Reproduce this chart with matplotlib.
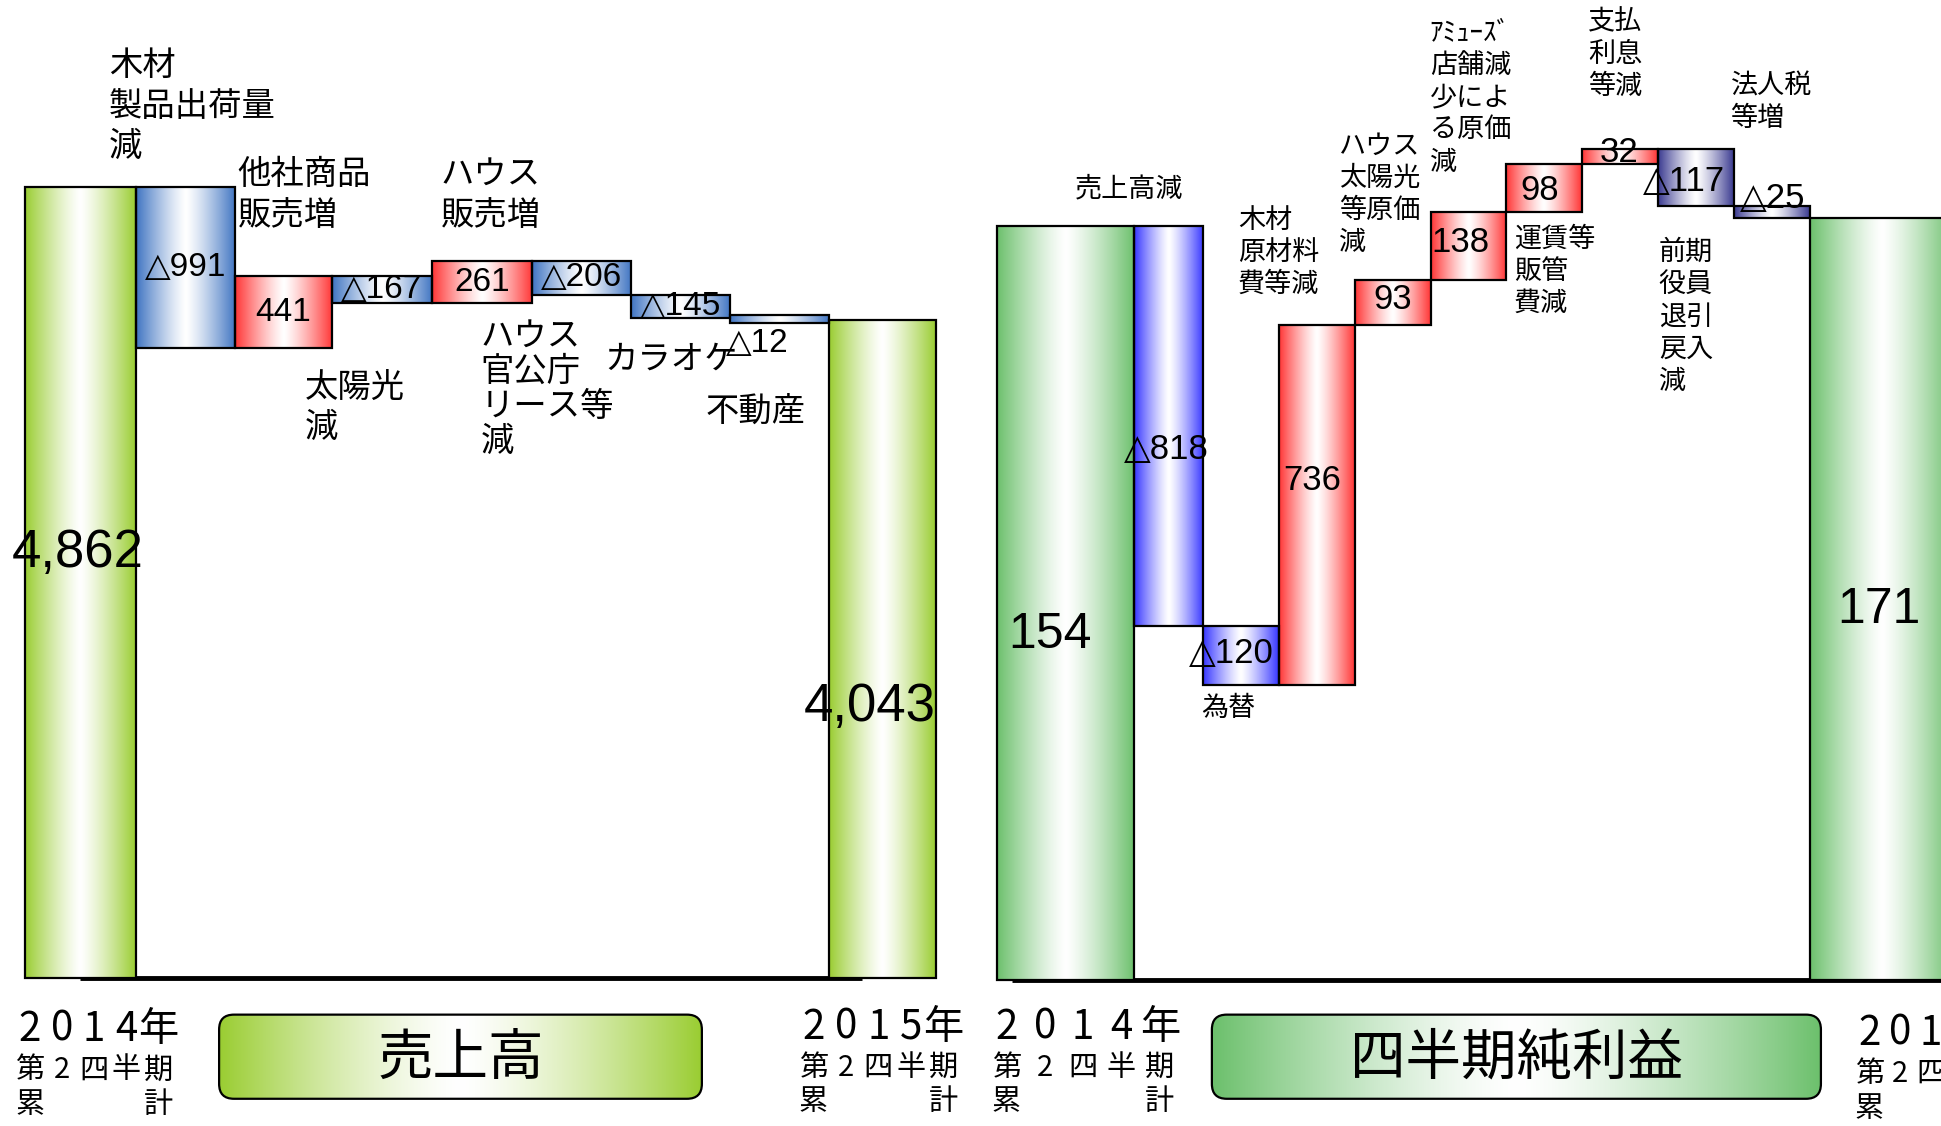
import numpy as np
import matplotlib
matplotlib.use('Agg')
import matplotlib.pyplot as plt
import matplotlib.colors as mcolors
from matplotlib.patches import Rectangle, FancyBboxPatch

JP = ['Noto Sans CJK JP', 'DejaVu Sans']
NUM = ['Liberation Sans', 'DejaVu Sans']

# ---- data: 売上高 (left panel) ----
sales_start = 4862
sales_end = 4043
sales_deltas = [-991, 441, -167, 261, -206, -145, -12]
sales_labels = ["木材\n製品出荷量\n減", "他社商品\n販売増", "太陽光\n減", "ハウス\n販売増",
                "ハウス\n官公庁\nリース等\n減", "カラオケ", "不動産"]

# ---- data: 四半期純利益 (right panel) ----
profit_start = 154
profit_end = 171
profit_deltas = [-818, -120, 736, 93, 138, 98, 32, -117, -25]
profit_labels = ["売上高減", "為替", "木材\n原材料\n費等減", "ハウス\n太陽光\n等原価\n減",
                 "ｱﾐｭｰｽﾞ\n店舗減\n少によ\nる原価\n減", "運賃等\n販管\n費減", "支払\n利息\n等減",
                 "前期\n役員\n退引\n戻入\n減", "法人税\n等増"]

period_year = ["2014年", "2015年"]
period_sub = "第2四半期"
period_sum = "累計"
panel_titles = ["売上高", "四半期純利益"]

# ---- styles ----
L_GREEN = '#9ACD32'
R_GREEN = '#6CC06C'
L_BLUE = '#3F74C2'
R_BLUE = '#3636FF'
NAVY = '#3A3A90'
RED = '#FF3535'

sales_colors = [L_BLUE if d < 0 else RED for d in sales_deltas]
profit_colors = [R_BLUE, R_BLUE, RED, RED, RED, RED, RED, NAVY, NAVY]


def gradient(color, n=256, power=1.25):
    rgb = np.array(mcolors.to_rgb(color))
    t = np.linspace(0, 1, n)
    w = 1 - np.abs(2 * t - 1) ** power
    return (rgb[None, :] * (1 - w[:, None]) + w[:, None])[None, :, :]


def grad_bar(ax, x0, x1, y0, y1, color):
    ax.imshow(gradient(color), extent=[x0, x1, y0, y1], aspect='auto',
              interpolation='bilinear', zorder=2)
    ax.add_patch(Rectangle((x0, y0), x1 - x0, y1 - y0, fill=False,
                           ec='black', lw=1.6, zorder=3))


def fmt(v):
    return f"△{abs(v):,}" if v < 0 else f"{v:,}"


def waterfall(ax, start, deltas, end, widths, base, colors, end_color, min_h):
    edges = np.concatenate([[0], np.cumsum(widths)])
    grad_bar(ax, edges[0], edges[1], base, start, end_color)
    level = start
    mids = []
    for i, d in enumerate(deltas):
        lo, hi = sorted([level, level + d])
        if hi - lo < min_h:
            c = (hi + lo) / 2
            lo, hi = c - min_h / 2, c + min_h / 2
        grad_bar(ax, edges[i + 1], edges[i + 2], lo, hi, colors[i])
        mids.append(((edges[i + 1] + edges[i + 2]) / 2, (lo + hi) / 2))
        level += d
    grad_bar(ax, edges[-2], edges[-1], base, end, end_color)
    return edges, mids


fig = plt.figure(figsize=(19.41, 11.26), dpi=100)

# overlay in screen units for the captions under the panels
over = fig.add_axes([0, 0, 1, 1])
over.axis('off')

axL = fig.add_axes([0, 0, 0.5, 1])
axR = fig.add_axes([0.5, 0, 0.5, 1])
for ax in (axL, axR):
    ax.axis('off')
    ax.patch.set_alpha(0)

# ---------- left panel ----------
left_widths = [1.12, 1, 0.98, 1.01, 1.01, 1, 1, 1, 1.08]
edges, mids = waterfall(axL, sales_start, sales_deltas, sales_end, left_widths,
                        0, sales_colors, L_GREEN, 50)
axL.plot([0.56, 8.45], [0, 0], color='black', lw=3.5, zorder=1.5, solid_capstyle='butt')

for i, (d, (mx, my)) in enumerate(zip(sales_deltas, mids)):
    if i == len(sales_deltas) - 1:
        mx, my = mx - 0.22, my - 150
    axL.text(mx, my, fmt(d), ha='center', va='center', fontsize=24, family=NUM, zorder=5)

axL.text(0.53, 2610, fmt(sales_start), ha='center', va='center', fontsize=38, family=NUM, zorder=5)
axL.text(8.53, 1666, fmt(sales_end), ha='center', va='center', fontsize=38, family=NUM, zorder=5)

left_label_pos = [(0.85, 5714, 1.2), (2.15, 5044, 1.2), (2.825, 3736, 1.2), (4.2, 5044, 1.2),
                  (4.6, 4048, 1.0), (5.85, 3911, 1.2), (6.875, 3591, 1.2)]
for lab, (x, y, ls) in zip(sales_labels, left_label_pos):
    axL.text(x, y, lab, ha='left', va='top', fontsize=24, family=JP, linespacing=ls, zorder=5)

axL.set_xlim(-0.25, 9.55)
axL.set_ylim(-913, 6011)

# ---------- right panel ----------
right_base = -1388
right_widths = [1.81, 0.914, 1, 1, 1, 1, 1, 1, 1, 1, 1.9]
edges, mids = waterfall(axR, profit_start, profit_deltas, profit_end, right_widths,
                        right_base, profit_colors, R_GREEN, 20)
axR.plot([0.2, 13.5], [right_base, right_base], color='black', lw=3.5, zorder=1.5,
         solid_capstyle='butt')

right_value_pos = [(2.237, -302), (3.102, -719), (4.163, -365), (5.224, 5), (6.122, 121),
                   (7.167, 227), (8.212, 306), (9.061, 245), (10.237, 212)]
for d, (x, y) in zip(profit_deltas, right_value_pos):
    axR.text(x, y, fmt(d), ha='center', va='center', fontsize=25, family=NUM, zorder=5)
axR.text(0.702, -681, fmt(profit_start), ha='center', va='center', fontsize=36, family=NUM, zorder=5)
axR.text(11.64, -631, fmt(profit_end), ha='center', va='center', fontsize=36, family=NUM, zorder=5)

right_label_pos = [(1.029, 258), (2.694, -805), (3.184, 194), (4.522, 346), (5.714, 577),
                   (6.824, 156), (7.804, 600), (8.735, 128), (9.682, 468)]
for lab, (x, y) in zip(profit_labels, right_label_pos):
    axR.text(x, y, lab, ha='left', va='top', fontsize=19.5, family=JP, linespacing=1.25, zorder=5)

axR.set_xlim(-0.343, 12.457)
axR.set_ylim(-1686, 617)


# ---------- captions ----------
def spread(text, x0, x1, y, size):
    xs = np.linspace(x0, x1, len(text))
    for ch, x in zip(text, xs):
        over.text(x, y, ch, ha='center', va='center', fontsize=size, family=JP)


def period(year, x0, x1, y0, dx=None):
    if dx is not None:
        x1 = x0 + dx * (len(year) - 1)
    spread(year, x0, x1, y0, 29)
    spread(period_sub, x0, x1, y0 + 33, 21)
    spread(period_sum, x0, x1, y0 + 61, 21)


period(period_year[0], 24, 128, 832)
period(period_year[1], 657, 762, 830)
period(period_year[0], 813, 937, 830)
period(period_year[1], 1510, None, 835, dx=25)


def title_box(text, x0, x1, y0, y1, color):
    box = FancyBboxPatch((x0, y0), x1 - x0, y1 - y0, boxstyle="round,pad=0,rounding_size=12",
                         fc='none', ec='black', lw=1.6, zorder=3)
    over.add_patch(box)
    im = over.imshow(gradient(color, power=1.4), extent=[x0, x1, y1, y0], aspect='auto',
                     interpolation='bilinear', zorder=2)
    im.set_clip_path(box)
    over.text((x0 + x1) / 2, (y0 + y1) / 2 + 2, text, ha='center', va='center',
              fontsize=40, family=JP, zorder=4)


title_box(panel_titles[0], 177, 567, 820, 888, L_GREEN)
title_box(panel_titles[1], 979, 1471, 820, 888, R_GREEN)

over.set_xlim(0, 1568)
over.set_ylim(910, 0)

fig.savefig('out.png', dpi=100)
